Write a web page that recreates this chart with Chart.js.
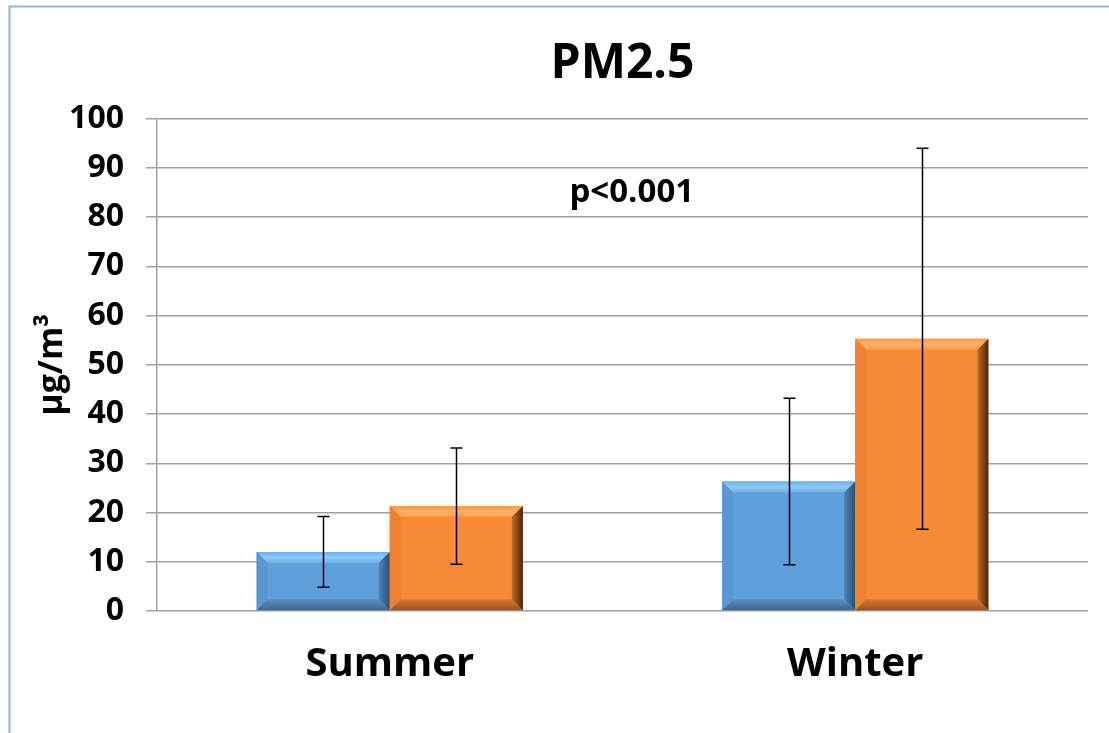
<!DOCTYPE html>
<html>
<head>
<meta charset="utf-8">
<script src="https://cdn.jsdelivr.net/npm/chart.js@4"></script>
<style>
  html, body { margin: 0; padding: 0; background: #fff; }
  #wrap { width: 1109px; height: 733px; }
</style>
</head>
<body>
<div id="wrap"><canvas id="myChart" width="1109" height="733"></canvas></div>
<script>
  var categories = ['Summer', 'Winter'];
  var blueMeans = [12.0, 26.3];
  var blueErr = [7.2, 16.9];
  var orangeMeans = [21.3, 55.3];
  var orangeErr = [11.8, 38.7];
  var yTicks = [0, 10, 20, 30, 40, 50, 60, 70, 80, 90, 100];
  var pLabel = 'p<0.001';

  var FONT = '"Open Sans", "DejaVu Sans", sans-serif';

  // frame around the whole picture
  var framePlugin = {
    id: 'frame',
    beforeDraw: function (chart) {
      var c = chart.ctx;
      c.save();
      c.strokeStyle = '#8db4e3';
      c.lineWidth = 2;
      c.beginPath();
      c.moveTo(9.5, 740);
      c.lineTo(9.5, 6.5);
      c.lineTo(1120, 6.5);
      c.stroke();
      c.restore();
    }
  };

  // bevelled look on the bars
  function bevel(c, x0, y0, x1, y1, b, cols) {
    function poly(pts, col) {
      c.fillStyle = col;
      c.beginPath();
      c.moveTo(pts[0][0], pts[0][1]);
      for (var i = 1; i < pts.length; i++) c.lineTo(pts[i][0], pts[i][1]);
      c.closePath();
      c.fill();
    }
    var g0 = c.createLinearGradient(0, y0, 0, y0 + b);
    g0.addColorStop(0, cols.top2);
    g0.addColorStop(0.5, cols.top1);
    g0.addColorStop(1, cols.top2);
    poly([[x0, y0], [x1, y0], [x1 - b, y0 + b], [x0 + b, y0 + b]], g0);
    poly([[x0, y0], [x0 + b, y0 + b], [x0 + b, y1 - b], [x0, y1]], cols.left);
    var g = c.createLinearGradient(x1 - b, 0, x1, 0);
    g.addColorStop(0, cols.right1);
    g.addColorStop(1, cols.right2);
    poly([[x1, y0], [x1, y1], [x1 - b, y1 - b], [x1 - b, y0 + b]], g);
    var g2 = c.createLinearGradient(0, y1 - b, 0, y1);
    g2.addColorStop(0, cols.bottom1);
    g2.addColorStop(1, cols.bottom2);
    poly([[x0, y1], [x0 + b, y1 - b], [x1 - b, y1 - b], [x1, y1]], g2);
  }

  var bevelCols = [
    { top1: '#8fcaf5', top2: '#70b0e6', left: '#5898d2', right1: '#4b84b8', right2: '#2a4f74', bottom1: '#5a8fc2', bottom2: '#3d6790' },
    { top1: '#fdb068', top2: '#f99a48', left: '#ee8230', right1: '#c56a26', right2: '#4a2508', bottom1: '#d9782e', bottom2: '#9a531c' }
  ];
  var errors = [blueErr, orangeErr];
  var means = [blueMeans, orangeMeans];

  var barPlugin = {
    id: 'barStyle',
    afterDatasetsDraw: function (chart) {
      var c = chart.ctx;
      var ys = chart.scales.y;
      c.save();
      chart.data.datasets.forEach(function (ds, di) {
        var meta = chart.getDatasetMeta(di);
        meta.data.forEach(function (bar) {
          var x0 = bar.x - bar.width / 2, x1 = bar.x + bar.width / 2;
          bevel(c, x0, bar.y, x1, bar.base, 11, bevelCols[di]);
        });
      });
      // error bars
      c.strokeStyle = '#000';
      c.lineWidth = 1.5;
      chart.data.datasets.forEach(function (ds, di) {
        var meta = chart.getDatasetMeta(di);
        meta.data.forEach(function (bar, j) {
          var hi = ys.getPixelForValue(means[di][j] + errors[di][j]);
          var lo = ys.getPixelForValue(means[di][j] - errors[di][j]);
          var x = Math.round(bar.x) + 0.5;
          c.beginPath();
          c.moveTo(x, hi); c.lineTo(x, lo);
          c.moveTo(x - 6, hi); c.lineTo(x + 6, hi);
          c.moveTo(x - 6, lo); c.lineTo(x + 6, lo);
          c.stroke();
        });
      });
      // significance note
      var xs = chart.scales.x;
      c.fillStyle = '#000';
      c.font = 'bold 33px ' + FONT;
      c.textAlign = 'center';
      c.textBaseline = 'middle';
      c.fillText(pLabel, xs.getPixelForValue(0.52), ys.getPixelForValue(85));
      c.restore();
    }
  };

  var ctx = document.getElementById('myChart');

  new Chart(ctx, {
    type: 'bar',
    data: {
      labels: categories,
      datasets: [{
        label: 'Blue',
        data: blueMeans,
        backgroundColor: '#5fa0dc',
        borderWidth: 0
      },
      {
        label: 'Orange',
        data: orangeMeans,
        backgroundColor: '#f78a36',
        borderWidth: 0
      }]
    },
    plugins: [framePlugin, barPlugin],
    options: {
      responsive: false,
      animation: false,
      devicePixelRatio: 1,
      categoryPercentage: 0.572,
      barPercentage: 1.0,
      layout: { padding: { left: 0, right: 21, top: 0, bottom: 0 } },
      plugins: {
        legend: { display: false },
        tooltip: { enabled: false },
        title: {
          display: true,
          text: 'PM2.5',
          color: '#000',
          fullSize: false,
          font: { family: FONT, size: 48, weight: 'bold', lineHeight: 1.2 },
          padding: { top: 36, bottom: 25 }
        }
      },
      scales: {
        x: {
          grid: { display: false },
          border: { display: false },
          ticks: {
            color: '#000',
            padding: 22,
            font: { family: FONT, size: 40, weight: 'bold' }
          },
          afterFit: function (s) { s.height = 122; }
        },
        y: {
          min: 0,
          max: 100,
          afterBuildTicks: function (s) { s.ticks = yTicks.map(function (v) { return { value: v }; }); },
          grid: { color: '#a0a0a0', lineWidth: 1.5, tickLength: 11 },
          border: { display: true, color: '#a0a0a0', width: 1.5 },
          ticks: {
            color: '#000',
            padding: 22,
            font: { family: FONT, size: 32, weight: 'bold' }
          },
          title: {
            display: true,
            text: 'μg/m³',
            color: '#000',
            padding: { top: 32, bottom: 0 },
            font: { family: FONT, size: 34, weight: 'bold' }
          },
          afterFit: function (s) { s.width = 157; }
        }
      }
    }
  });
</script>
</body>
</html>
